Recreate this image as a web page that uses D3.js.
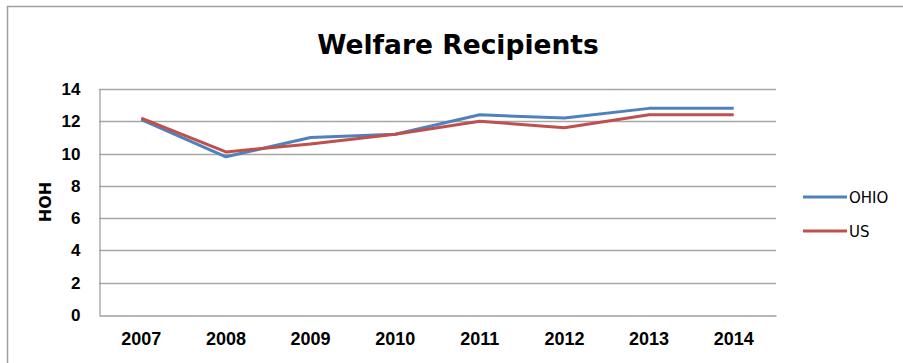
<!DOCTYPE html>
<html>
<head>
<meta charset="utf-8">
<script src="https://cdn.jsdelivr.net/npm/d3@7/dist/d3.min.js"></script>
<style>
  html, body { margin: 0; padding: 0; background: #fff; }
  svg { display: block; font-family: "DejaVu Sans", sans-serif; }
</style>
</head>
<body>
<svg id="chart" width="903" height="363"></svg>
<script>
// Welfare recipients (heads of household), Ohio vs. US
const years = ["2007", "2008", "2009", "2010", "2011", "2012", "2013", "2014"];
const ohio = [12.1, 9.8, 11.0, 11.2, 12.4, 12.2, 12.8, 12.8];
const us   = [12.2, 10.1, 10.6, 11.2, 12.0, 11.6, 12.4, 12.4];
const yTicks = [0, 2, 4, 6, 8, 10, 12, 14];
const seriesNames = ["OHIO", "US"];
const seriesColors = ["#4F81BD", "#C0504D"];

const series = [
  { name: seriesNames[0], color: seriesColors[0], values: ohio },
  { name: seriesNames[1], color: seriesColors[1], values: us }
];

const svg = d3.select("#chart");
const plot = { left: 99, right: 776, top: 89, bottom: 315 };

// chart frame
svg.append("rect")
  .attr("x", 7.5).attr("y", 6.5)
  .attr("width", 920).attr("height", 380)
  .attr("fill", "#fff")
  .attr("stroke", "#a0a0a0").attr("stroke-width", 1.5);

// title
svg.append("text")
  .attr("x", 458).attr("y", 54)
  .attr("text-anchor", "middle")
  .attr("font-size", 26.5).attr("font-weight", "bold")
  .attr("fill", "#000")
  .text("Welfare Recipients");

const x = d3.scaleBand().domain(years).range([plot.left, plot.right]);
const y = d3.scaleLinear().domain([0, 14]).range([plot.bottom, plot.top]);

// horizontal gridlines
svg.append("g").selectAll("line").data(yTicks.filter(t => t > 0)).join("line")
  .attr("x1", plot.left).attr("x2", plot.right)
  .attr("y1", d => Math.round(y(d)) + 0.5).attr("y2", d => Math.round(y(d)) + 0.5)
  .attr("stroke", "#a6a6a6").attr("stroke-width", 1.3);

// y axis
const yAxis = svg.append("g")
  .attr("transform", `translate(${plot.left + 0.5},0)`)
  .call(d3.axisLeft(y).tickValues(yTicks).tickSize(0).tickPadding(19));
yAxis.select(".domain").attr("stroke", "#a0a0a0").attr("stroke-width", 1.3);
yAxis.selectAll("text")
  .attr("font-family", null)
  .attr("font-size", 17).attr("font-weight", "bold").attr("fill", "#000");

// x axis
const xAxis = svg.append("g")
  .attr("transform", `translate(0,${plot.bottom + 0.5})`)
  .call(d3.axisBottom(x).tickSize(0).tickPadding(17));
xAxis.select(".domain").attr("stroke", "#a0a0a0").attr("stroke-width", 1.3);
xAxis.selectAll("text")
  .attr("font-family", null)
  .attr("font-size", 18).attr("font-weight", "bold").attr("fill", "#000");

// y axis title
svg.append("text")
  .attr("transform", `translate(51,${(plot.top + plot.bottom) / 2}) rotate(-90)`)
  .attr("text-anchor", "middle")
  .attr("font-size", 16).attr("font-weight", "bold")
  .text("HOH");

// series lines
const line = d3.line()
  .x((d, i) => x(years[i]) + x.bandwidth() / 2)
  .y(d => y(d));

svg.append("g").selectAll("path").data(series).join("path")
  .attr("d", d => line(d.values))
  .attr("fill", "none")
  .attr("stroke", d => d.color)
  .attr("stroke-width", 3)
  .attr("stroke-linejoin", "round");

// legend
const legend = svg.append("g").selectAll("g").data(series).join("g")
  .attr("transform", (d, i) => `translate(803,${197 + i * 34})`);
legend.append("line")
  .attr("x1", 0).attr("x2", 44)
  .attr("stroke", d => d.color).attr("stroke-width", 3);
legend.append("text")
  .attr("x", 46).attr("y", 5.5)
  .attr("font-size", 15)
  .text(d => d.name);
</script>
</body>
</html>
